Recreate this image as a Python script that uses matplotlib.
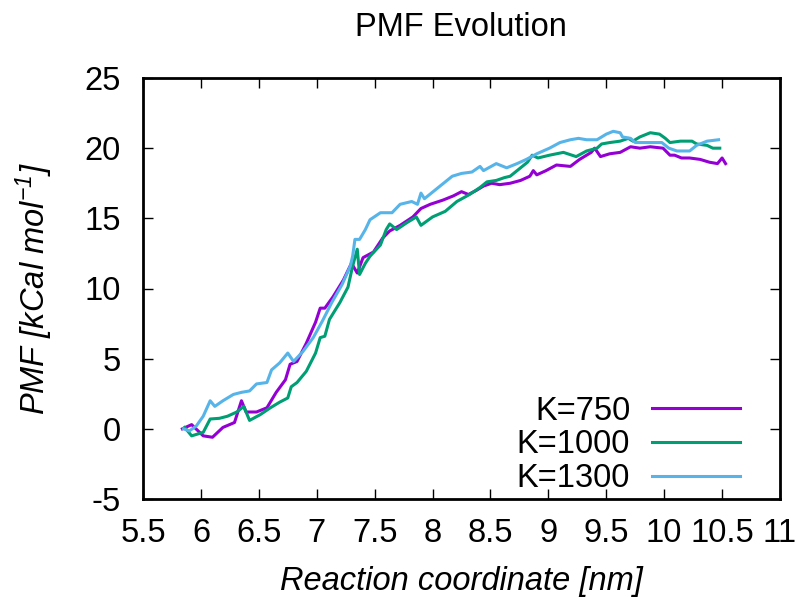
#!/usr/bin/env python3
"""PMF evolution plot (gnuplot look) for three spring constants."""

import matplotlib
import matplotlib.pyplot as plt

matplotlib.use('Agg')

plt.rcParams['font.family'] = ['Liberation Sans', 'DejaVu Sans']
plt.rcParams['mathtext.fontset'] = 'custom'
plt.rcParams['mathtext.rm'] = 'Liberation Sans:italic'
plt.rcParams['mathtext.it'] = 'Liberation Sans:italic'
plt.rcParams['axes.unicode_minus'] = False

# K=750
x_750 = [5.84, 5.92, 6.02, 6.10, 6.19, 6.29, 6.35, 6.39, 6.48, 6.57, 6.65, 6.73, 6.77,
         6.83, 6.91, 6.99, 7.03, 7.07, 7.14, 7.23, 7.30, 7.35, 7.40, 7.49, 7.57, 7.63,
         7.72, 7.83, 7.90, 7.98, 8.09, 8.18, 8.25, 8.31, 8.38, 8.44, 8.51, 8.58, 8.67,
         8.76, 8.84, 8.87, 8.90, 8.98, 9.07, 9.19, 9.27, 9.37, 9.40, 9.45, 9.53, 9.62,
         9.71, 9.79, 9.88, 9.99, 10.05, 10.09, 10.15, 10.22, 10.31, 10.39, 10.46, 10.50, 10.53]
y_750 = [0.0, 0.3, -0.5, -0.6, 0.1, 0.45, 2.0, 1.2, 1.2, 1.5, 2.6, 3.5, 4.6,
         4.8, 6.1, 7.6, 8.6, 8.6, 9.4, 10.6, 11.8, 11.1, 12.2, 12.6, 13.6, 14.1,
         14.5, 15.1, 15.7, 16.0, 16.3, 16.6, 16.9, 16.7, 17.0, 17.3, 17.5, 17.4, 17.5,
         17.7, 18.0, 18.4, 18.1, 18.4, 18.8, 18.7, 19.2, 19.7, 20.0, 19.4, 19.6, 19.7,
         20.1, 20.0, 20.1, 20.0, 19.5, 19.5, 19.3, 19.3, 19.2, 19.0, 18.9, 19.3, 18.9]

# K=1000
x_1000 = [5.86, 5.92, 6.02, 6.08, 6.16, 6.23, 6.31, 6.37, 6.42, 6.51, 6.60, 6.68, 6.75,
          6.78, 6.83, 6.91, 6.99, 7.03, 7.07, 7.11, 7.20, 7.27, 7.31, 7.35, 7.37, 7.42,
          7.46, 7.55, 7.60, 7.63, 7.69, 7.78, 7.86, 7.90, 8.00, 8.11, 8.21, 8.32, 8.41,
          8.47, 8.55, 8.62, 8.67, 8.76, 8.82, 8.86, 8.91, 9.01, 9.13, 9.24, 9.33, 9.42,
          9.46, 9.53, 9.62, 9.69, 9.73, 9.79, 9.88, 9.96, 10.01, 10.05, 10.14, 10.24,
          10.28, 10.37, 10.42, 10.48]
y_1000 = [0.1, -0.5, -0.25, 0.7, 0.75, 0.9, 1.2, 1.6, 0.6, 1.0, 1.5, 1.9, 2.2,
          3.0, 3.3, 4.1, 5.4, 6.5, 6.6, 7.8, 9.0, 10.1, 11.6, 12.8, 11.0, 11.8,
          12.3, 13.1, 14.2, 14.6, 14.2, 14.7, 15.1, 14.5, 15.1, 15.5, 16.2, 16.7, 17.2,
          17.6, 17.7, 17.9, 18.0, 18.6, 19.0, 19.5, 19.3, 19.5, 19.7, 19.4, 19.8, 20.0,
          20.3, 20.4, 20.5, 20.7, 20.5, 20.8, 21.1, 21.0, 20.7, 20.4, 20.5, 20.5,
          20.3, 20.2, 20.0, 20.0]

# K=1300
x_1300 = [5.85, 5.90, 5.96, 6.02, 6.08, 6.12, 6.19, 6.28, 6.35, 6.42, 6.48, 6.57, 6.61,
          6.68, 6.75, 6.80, 6.88, 6.97, 7.05, 7.13, 7.22, 7.29, 7.31, 7.33, 7.37, 7.42,
          7.46, 7.55, 7.65, 7.72, 7.82, 7.87, 7.90, 7.93, 8.05, 8.17, 8.25, 8.34, 8.41,
          8.44, 8.55, 8.64, 8.73, 8.81, 8.90, 9.01, 9.10, 9.19, 9.26, 9.33, 9.42, 9.50,
          9.56, 9.62, 9.64, 9.71, 9.75, 9.81, 9.91, 9.98, 10.04, 10.11, 10.22, 10.28,
          10.37, 10.47]
y_1300 = [0.0, -0.15, 0.2, 0.9, 2.0, 1.6, 2.0, 2.45, 2.6, 2.7, 3.2, 3.3, 4.2,
          4.7, 5.4, 4.8, 5.5, 6.5, 7.7, 9.0, 10.3, 11.6, 12.3, 13.5, 13.5, 14.2,
          14.9, 15.4, 15.4, 16.0, 16.2, 16.0, 16.8, 16.4, 17.2, 18.0, 18.2, 18.3, 18.7,
          18.4, 18.9, 18.6, 18.9, 19.2, 19.6, 20.0, 20.4, 20.6, 20.7, 20.6, 20.6, 21.0,
          21.2, 21.1, 20.8, 20.7, 20.4, 20.4, 20.4, 20.4, 20.0, 19.8, 19.8, 20.2,
          20.5, 20.6]

series = [
    (x_750, y_750, 'K=750', '#9400d3'),
    (x_1000, y_1000, 'K=1000', '#009e73'),
    (x_1300, y_1300, 'K=1300', '#56b4e9'),
]

x_ticks = [5.5, 6, 6.5, 7, 7.5, 8, 8.5, 9, 9.5, 10, 10.5, 11]
x_tick_labels = ['5.5', '6', '6.5', '7', '7.5', '8', '8.5', '9', '9.5', '10', '10.5', '11']
y_ticks = [-5, 0, 5, 10, 15, 20, 25]

FS = 23.5

fig = plt.figure(figsize=(8.03, 6.01), dpi=100)
ax = fig.add_axes([143 / 803, 1 - 499 / 601, (780 - 143) / 803, (499 - 78) / 601])

for xs, ys, label, color in series:
    ax.plot(xs, ys, color=color, linewidth=2.2, label=label)

ax.set_xlim(5.5, 11)
ax.set_ylim(-5, 25)
ax.set_xticks(x_ticks)
ax.set_xticklabels(x_tick_labels)
ax.set_yticks(y_ticks)

# gnuplot-like frame: inward ticks mirrored on all sides
for spine in ax.spines.values():
    spine.set_linewidth(2.0)
ax.tick_params(direction='in', length=7, width=1.0, labelsize=FS, top=True, right=True)
ax.tick_params(axis='x', pad=14)
ax.tick_params(axis='y', pad=16)

ax.set_xlabel('Reaction coordinate [nm]', fontsize=FS, style='italic')
ax.set_ylabel(r'PMF [kCal mol$^{-1}$]', fontsize=FS, style='italic')
ax.xaxis.set_label_coords(0.5, -0.158)
ax.yaxis.set_label_coords(-0.138, 0.5)
fig.text(461 / 803, 1 - 28 / 601, 'PMF Evolution', fontsize=FS, ha='center', va='center')

leg = ax.legend(loc='lower right', markerfirst=False, frameon=False, fontsize=FS,
                handlelength=2.7, handletextpad=0.66, labelspacing=0.08,
                borderpad=0, borderaxespad=0, bbox_to_anchor=(0.937, 0.012))
for line in leg.get_lines():
    line.set_linewidth(2.2)

fig.savefig('out.png', dpi=100, facecolor='white')
plt.close(fig)
